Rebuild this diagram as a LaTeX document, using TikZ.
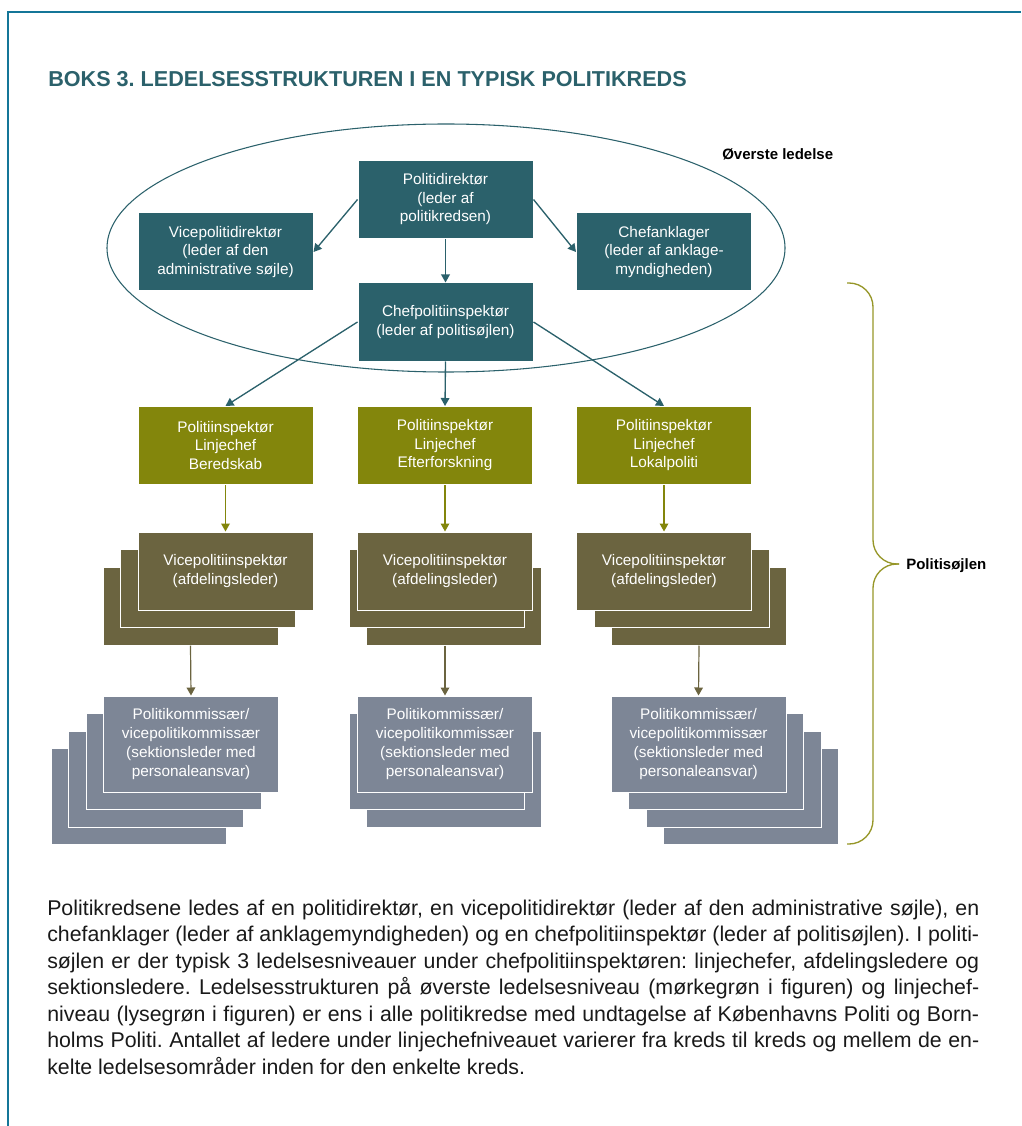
\documentclass[tikz,border=0pt]{standalone}
\usepackage{fontspec}
\setmainfont{Liberation Sans}
\usetikzlibrary{arrows.meta,shapes.geometric}
\definecolor{politeal}{RGB}{43,97,107}
\definecolor{polgreen}{RGB}{131,134,12}
\definecolor{polbrown}{RGB}{107,100,64}
\definecolor{polgrey}{RGB}{125,134,150}
\definecolor{polframe}{RGB}{20,118,152}
\definecolor{polbrace}{RGB}{150,150,40}
\tolerance=9999
\hbadness=10000
\frenchspacing
\tikzset{
  orgbox/.style={draw=white, line width=0.75pt, text=white, align=center, inner sep=0pt,
    minimum width=131.25pt, minimum height=58.5pt, font=\fontsize{11.5pt}{13.9pt}\selectfont},
  tealbox/.style={orgbox, fill=politeal},
  greenbox/.style={orgbox, fill=polgreen},
  vicebox/.style={orgbox, fill=polbrown},
  kommbox/.style={orgbox, fill=polgrey, minimum height=72pt, font=\fontsize{11.5pt}{14.2pt}\selectfont},
  tealarrow/.style={draw=politeal, line width=1pt, -{Triangle[length=6pt,width=6.5pt]}},
  greenarrow/.style={draw=polgreen, line width=0.9pt, -{Triangle[length=6pt,width=6.5pt]}},
  brownarrow/.style={draw=polbrown, line width=0.9pt, -{Triangle[length=6pt,width=6.5pt]}},
  boldlabel/.style={anchor=base west, inner sep=0pt, font=\bfseries\fontsize{11.25pt}{13pt}\selectfont}
}
\begin{document}
\begin{tikzpicture}[x=0.75pt, y=-0.75pt]
\useasboundingbox (0,0) rectangle (1021,1126);
\draw[polframe, line width=1.5pt] (8,1126) -- (8,12) -- (1021,12);
\node[anchor=base west, inner sep=0pt, text=politeal, font=\bfseries\fontsize{16.2pt}{18pt}\selectfont] (title) at (48,86.5) {BOKS 3. LEDELSESSTRUKTUREN I EN TYPISK POLITIKREDS};

% oeverste ledelse
\node[ellipse, draw=politeal, line width=0.8pt, minimum width=508.5pt, minimum height=186pt, inner sep=0pt] (top) at (446,248) {};
\node[boldlabel] (toplabel) at (722,160) {Øverste ledelse};
\node[tealbox] (pd) at (445.5,199.5) {Politidirektør\\(leder af\\politikredsen)};
\node[tealbox] (vpd) at (225.5,252) {Vicepolitidirektør\\(leder af den\\administrative søjle)};
\node[tealbox] (ca) at (664,252) {Chefanklager\\(leder af anklage-\\myndigheden)};
\node[tealbox] (cpi) at (445.5,322) {Chefpolitiinspektør\\(leder af politisøjlen)};
\draw[tealarrow] (pd.west) -- (vpd.east);
\draw[tealarrow] (pd.east) -- (ca.west);
\draw[tealarrow] (pd.south) -- (cpi.north);

% linjechefer
\node[greenbox] (pb) at (225.5,445.5) {Politiinspektør\\Linjechef\\Beredskab};
\node[greenbox] (pe) at (445,445.5) {Politiinspektør\\Linjechef\\Efterforskning};
\node[greenbox] (pl) at (664,445.5) {Politiinspektør\\Linjechef\\Lokalpoliti};
\draw[tealarrow] (cpi.west) -- (pb.north);
\draw[tealarrow] (cpi.south) -- (pe.north);
\draw[tealarrow] (cpi.east) -- (pl.north);

% afdelingsledere
\node[vicebox] (vl3) at (190.5,606) {};
\node[vicebox] (vl2) at (208,588.5) {};
\node[vicebox] (vl1) at (225.5,571) {Vicepolitiinspektør\\(afdelingsleder)};
\node[vicebox] (vm3) at (453.5,606) {};
\node[vicebox] (vm2) at (436.5,588.5) {};
\node[vicebox] (vm1) at (445,571) {Vicepolitiinspektør\\(afdelingsleder)};
\node[vicebox] (vr3) at (699,606) {};
\node[vicebox] (vr2) at (681.5,588.5) {};
\node[vicebox] (vr1) at (664,571) {Vicepolitiinspektør\\(afdelingsleder)};
\draw[greenarrow] (pb.south) -- (vl1.north);
\draw[greenarrow] (pe.south) -- (vm1.north);
\draw[greenarrow] (pl.south) -- (vr1.north);

% sektionsledere
\node[kommbox] (kl4) at (138.5,796.5) {};
\node[kommbox] (kl3) at (156,779) {};
\node[kommbox] (kl2) at (173.5,761.5) {};
\node[kommbox] (kl1) at (191,744) {Politikommissær/\\vicepolitikommissær\\(sektionsleder med\\personaleansvar)};
\node[kommbox] (km3) at (454,779) {};
\node[kommbox] (km2) at (436.5,761.5) {};
\node[kommbox] (km1) at (445,744) {Politikommissær/\\vicepolitikommissær\\(sektionsleder med\\personaleansvar)};
\node[kommbox] (kr4) at (751,796.5) {};
\node[kommbox] (kr3) at (733.5,779) {};
\node[kommbox] (kr2) at (716,761.5) {};
\node[kommbox] (kr1) at (698.5,744) {Politikommissær/\\vicepolitikommissær\\(sektionsleder med\\personaleansvar)};
\draw[brownarrow] (vl3.south) -- (kl1.north);
\draw[brownarrow] (km1.north |- vm3.south) -- (km1.north);
\draw[brownarrow] (vr3.south) -- (kr1.north);

% politisoejlen
\draw[polbrace, line width=1pt, rounded corners=18pt] (847,283) -- (873,283) -- (873,564) -- (899,564);
\draw[polbrace, line width=1pt, rounded corners=18pt] (899,564) -- (873,564) -- (873,844) -- (847,844);
\node[boldlabel] (pillar) at (906,569.5) {Politisøjlen};

\node[anchor=north west, inner sep=0pt, text width=699pt, align=justify, text=black!90,
  font=\fontsize{16pt}{19.9pt}\selectfont] (txt) at (47,899.5)
{Politikredsene ledes af en politidirektør, en vicepolitidirektør (leder af den administrative søjle), en\linebreak
chefanklager (leder af anklagemyndigheden) og en chefpolitiinspektør (leder af politisøjlen). I politi-\linebreak
søjlen er der typisk 3 ledelsesniveauer under chefpolitiinspektøren: linjechefer, afdelingsledere og\linebreak
sektionsledere. Ledelsesstrukturen på øverste ledelsesniveau (mørkegrøn i figuren) og linjechef-\linebreak
niveau (lysegrøn i figuren) er ens i alle politikredse med undtagelse af Københavns Politi og Born-\linebreak
holms Politi. Antallet af ledere under linjechefniveauet varierer fra kreds til kreds og mellem de en-\linebreak
kelte ledelsesområder inden for den enkelte kreds.};
\end{tikzpicture}
\end{document}
